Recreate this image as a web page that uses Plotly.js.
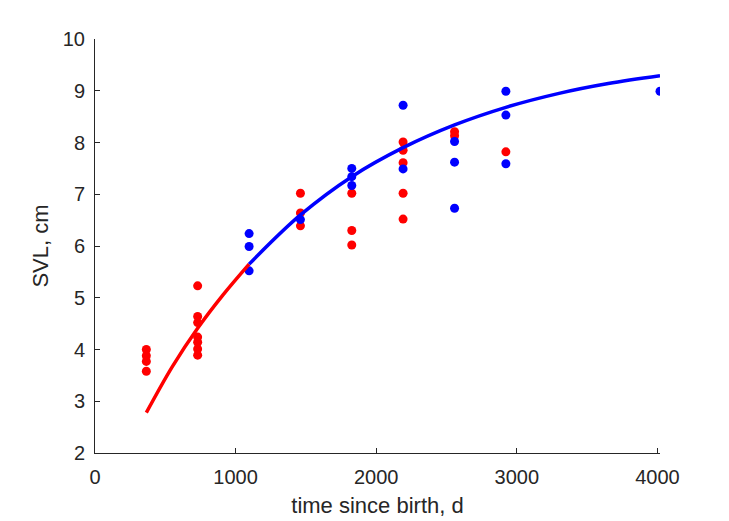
<!DOCTYPE html>
<html>
<head>
<meta charset="utf-8">
<script src="https://cdn.plot.ly/plotly-3.0.1.min.js"></script>
<style>html,body{margin:0;padding:0;background:#fff;}#chart{width:729px;height:521px;}</style>
</head>
<body>
<div id="chart"></div>
<script>
// Red (early) observations: time since birth (d) and SVL (cm)
const redX = [365, 365, 365, 365,
              730, 730, 730, 730, 730, 730, 730,
              1461, 1461, 1461,
              1826, 1826, 1826,
              2191, 2191, 2191, 2191, 2191,
              2557, 2557,
              2922];
const redY = [4.00, 3.88, 3.77, 3.58,
              5.23, 4.64, 4.52, 4.24, 4.14, 4.01, 3.89,
              7.02, 6.64, 6.39,
              7.02, 6.30, 6.02,
              8.01, 7.85, 7.61, 7.02, 6.52,
              8.21, 8.13,
              7.82];
// Blue (later) observations
const blueX = [1096, 1096, 1096,
               1461,
               1826, 1826, 1826,
               2191, 2191,
               2557, 2557, 2557,
               2922, 2922, 2922,
               4018];
const blueY = [6.24, 5.99, 5.52,
               6.51,
               7.50, 7.34, 7.17,
               8.72, 7.49,
               8.02, 7.62, 6.73,
               8.99, 8.53, 7.59,
               8.99];
// Growth curve
const redCurveX = [365, 550, 730, 912, 1096];
const redCurveY = [2.78, 3.67, 4.41, 5.06, 5.65];
const blueCurveX = [1096, 1461, 1826, 2191, 2557, 2922, 3300, 3650, 4018];
const blueCurveY = [5.65, 6.60, 7.34, 7.90, 8.34, 8.68, 8.95, 9.14, 9.29];

const xTicks = [0, 1000, 2000, 3000, 4000];
const yTicks = [2, 3, 4, 5, 6, 7, 8, 9, 10];

const RED = '#ff0000', BLUE = '#0000ff', INK = '#262626';
const FONT = 'Liberation Sans, Arial, Helvetica, sans-serif';

const traces = [
  {x: redX, y: redY, type: 'scatter', mode: 'markers', marker: {color: RED, size: 9}, hoverinfo: 'skip'},
  {x: blueX, y: blueY, type: 'scatter', mode: 'markers', marker: {color: BLUE, size: 9}, hoverinfo: 'skip'},
  {x: redCurveX, y: redCurveY, type: 'scatter', mode: 'lines', line: {color: RED, width: 3.5, shape: 'spline'}, hoverinfo: 'skip'},
  {x: blueCurveX, y: blueCurveY, type: 'scatter', mode: 'lines', line: {color: BLUE, width: 3.5, shape: 'spline'}, hoverinfo: 'skip'}
];

const layout = {
  width: 729, height: 521,
  margin: {l: 95, r: 69, t: 39, b: 68, pad: 0},
  paper_bgcolor: '#fff', plot_bgcolor: '#fff',
  showlegend: false,
  font: {family: FONT, color: INK, size: 20},
  xaxis: {
    range: [0, 4018], tickvals: xTicks, ticktext: xTicks.map(String),
    showgrid: false, zeroline: false, showline: true, linecolor: INK, linewidth: 1,
    ticks: 'inside', ticklen: 5, tickcolor: INK, tickwidth: 1,
    ticklabelstandoff: 6,
    tickfont: {size: 20, color: INK, family: FONT},
    title: {text: 'time since birth, d', font: {size: 22, color: INK, family: FONT}, standoff: 10},
    fixedrange: true
  },
  yaxis: {
    range: [2, 10], tickvals: yTicks, ticktext: yTicks.map(String),
    showgrid: false, zeroline: false, showline: true, linecolor: INK, linewidth: 1,
    ticks: 'inside', ticklen: 5, tickcolor: INK, tickwidth: 1,
    ticklabelstandoff: 5,
    tickfont: {size: 20, color: INK, family: FONT},
    title: {text: 'SVL, cm', font: {size: 22, color: INK, family: FONT}, standoff: 8},
    fixedrange: true
  }
};

Plotly.newPlot('chart', traces, layout, {displayModeBar: false, staticPlot: true});
</script>
</body>
</html>
